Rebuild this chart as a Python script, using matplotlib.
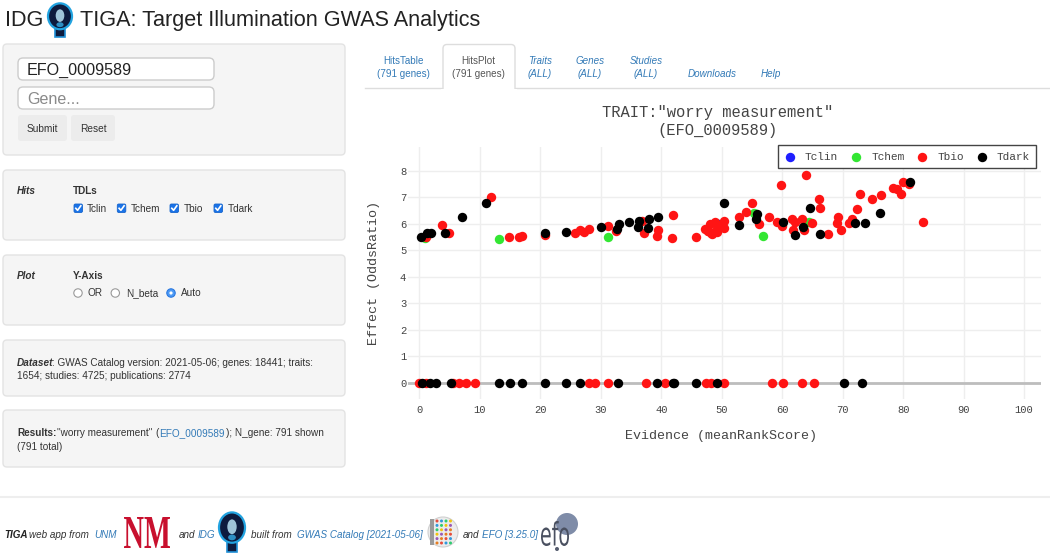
import matplotlib
matplotlib.use("Agg")
import matplotlib.pyplot as plt
from matplotlib.patches import FancyBboxPatch, Rectangle, Circle, Ellipse, PathPatch
from matplotlib.textpath import TextPath
from matplotlib.font_manager import FontProperties
from matplotlib.transforms import Affine2D
from matplotlib.lines import Line2D

# ---------------- data ----------------
tdl_names = ["Tclin", "Tchem", "Tbio", "Tdark"]
tdl_colors = ["#1f1fff", "#33e633", "#ff1414", "#000000"]

tclin_x = [49.6]
tclin_y = [6.00]

tchem_x = [0.9, 13.1, 31.2, 55.3, 56.8, 64.4]
tchem_y = [5.48, 5.44, 5.51, 6.40, 5.55, 6.07]

tbio_x = [1.1, 3.8, 4.9, 11.8, 14.8, 16.4, 16.9, 20.8, 25.8, 26.6, 27.2, 28.1,
          31.2, 32.5, 36.8, 37.2, 39.4, 39.3, 42.0, 41.8, 45.8, 47.2, 47.7, 47.8,
          48.1, 48.2, 48.3, 48.9, 49.2, 49.2, 49.8, 50.4, 50.4, 52.9, 54.0, 55.0,
          56.2, 57.8, 59.1, 59.8, 60.0, 61.6, 62.1, 61.7, 63.2, 63.6, 64.0, 65.0,
          66.0, 66.3, 67.5, 69.0, 69.3, 69.8, 71.1, 71.6, 72.3, 72.8, 74.9, 76.3,
          78.4, 78.9, 79.6, 80.0, 81.0, 83.2,
          0.0, 1.0, 5.6, 6.6, 7.7, 9.2, 28.1, 29.0, 31.2, 37.4, 40.6, 47.4, 48.2,
          50.4, 58.3, 60.1, 63.2, 65.2]
tbio_y = [5.50, 5.96, 5.66, 7.00, 5.49, 5.49, 5.56, 5.58, 5.65, 5.77, 5.68, 5.82,
          5.91, 5.74, 6.12, 5.65, 5.79, 5.53, 6.35, 5.47, 5.49, 5.81, 5.72, 5.75,
          5.98, 5.65, 5.62, 6.06, 5.69, 5.82, 5.97, 6.13, 5.83, 6.26, 6.47, 6.78,
          6.00, 6.28, 6.09, 7.47, 5.91, 6.19, 6.09, 5.78, 6.17, 5.78, 7.86, 6.03,
          6.94, 6.59, 5.63, 6.03, 6.25, 5.78, 6.03, 6.19, 6.56, 7.15, 6.93, 7.10,
          7.34, 7.32, 7.15, 7.60, 7.50, 6.06,
          0, 0, 0, 0, 0, 0, 0, 0, 0, 0, 0, 0, 0,
          0, 0, 0, 0, 0]

tdark_x = [0.2, 1.3, 1.9, 4.3, 7.0, 11.0, 20.8, 24.2, 30.0, 32.6, 33.0, 34.7,
           36.3, 36.2, 37.9, 37.8, 39.4, 50.4, 52.9, 55.9, 55.7, 60.2, 62.1, 63.5,
           64.6, 66.3, 72.1, 73.7, 76.2, 81.1,
           0.4, 1.7, 2.7, 5.2, 13.1, 14.9, 16.9, 20.8, 24.2, 26.5, 32.9, 39.3,
           41.9, 42.1, 45.7, 49.2, 70.2, 73.2]
tdark_y = [5.50, 5.65, 5.65, 5.66, 6.28, 6.78, 5.65, 5.68, 5.87, 5.80, 6.00, 6.09,
           6.13, 5.88, 6.18, 5.84, 6.27, 6.78, 5.96, 6.36, 6.17, 6.09, 5.60, 5.90,
           6.59, 5.61, 6.03, 6.03, 6.43, 7.60,
           0, 0, 0, 0, 0, 0, 0, 0, 0, 0, 0, 0,
           0, 0, 0, 0, 0, 0]

x_ticks = [0, 10, 20, 30, 40, 50, 60, 70, 80, 90, 100]
y_ticks = [0, 1, 2, 3, 4, 5, 6, 7, 8]

chart_title = 'TRAIT:"worry measurement"\n(EFO_0009589)'
x_label = "Evidence (meanRankScore)"
y_label = "Effect (OddsRatio)"
n_note = "(N: 791; 791 shown)"

# ---------------- page ----------------
W, H = 1050, 555
fig = plt.figure(figsize=(W / 100, H / 100), dpi=100)
fig.patch.set_facecolor("white")
bg = fig.add_axes([0, 0, 1, 1])
bg.set_xlim(0, W)
bg.set_ylim(H, 0)
bg.axis("off")
bg.set_zorder(0)
renderer = fig.canvas.get_renderer()

SANS = ["Liberation Sans", "DejaVu Sans"]
MONO = ["Liberation Mono", "DejaVu Sans Mono"]
LINK = "#337ab7"
TXT = "#333333"
PS = 7.2  # panel text size


def txt(x, y, s, size=PS, color=TXT, ha="left", va="baseline", family=SANS, **kw):
    return bg.text(x, y, s, fontsize=size, color=color, ha=ha, va=va,
                   family=family, **kw)


def seq(x, y, parts, size=PS):
    """parts: (text, gap_before_px, kwargs) placed one after another."""
    for s, gap, kw in parts:
        x += gap
        t = txt(x, y, s, size=size, **kw)
        x = t.get_window_extent(renderer).x1
    return x


def rbox(x0, y0, x1, y1, fc, ec, r=4, lw=1.0, z=1):
    bg.add_patch(FancyBboxPatch((x0, y0), x1 - x0, y1 - y0,
                                boxstyle=f"round,pad=0,rounding_size={r}",
                                fc=fc, ec=ec, lw=lw, zorder=z))


def path_text(s, x0, y0, x1, y1, color, family, weight="normal", z=3):
    tp = TextPath((0, 0), s, size=10, prop=FontProperties(family=family, weight=weight))
    ext = tp.get_extents()
    sx = (x1 - x0) / ext.width
    sy = (y1 - y0) / ext.height
    tr = Affine2D().translate(-ext.x0, -ext.y0).scale(sx, -sy).translate(x0, y1)
    bg.add_patch(PathPatch(tr.transform_path(tp), fc=color, ec="none", zorder=z))


def bulb(x0, y0, x1, y1):
    w, h = x1 - x0, y1 - y0
    cx = (x0 + x1) / 2
    bg.add_patch(Rectangle((cx - w * 0.2, y0 + h * 0.68), w * 0.4, h * 0.3,
                           fc="#0d1b3e", ec="#1f8fd6", lw=1.2, zorder=3))
    bg.add_patch(Ellipse((cx, y0 + h * 0.38), w, h * 0.74,
                         fc="#0d1b3e", ec="#22a3e0", lw=1.6, zorder=4))
    bg.add_patch(Ellipse((cx, y0 + h * 0.36), w * 0.36, h * 0.36,
                         fc="#b9e3f5", ec="none", alpha=0.85, zorder=5))
    bg.add_patch(Ellipse((cx, y0 + h * 0.62), w * 0.3, h * 0.14,
                         fc="#2d8fc4", ec="none", zorder=5))


# header
txt(5, 26, "IDG", size=15.6, color="#222222")
bulb(48, 3, 72, 38)
txt(80, 26, "TIGA: Target Illumination GWAS Analytics", size=15.6, color="#222222")

# left panels
for (a, b) in [(44, 155), (170, 240), (255, 325), (340, 396), (410, 467)]:
    rbox(3, a, 345, b, "#f5f5f5", "#e3e3e3")

rbox(18, 58, 214, 80, "white", "#cccccc", r=5, z=2)
rbox(18, 87, 214, 109, "white", "#cccccc", r=5, z=2)
txt(27, 75, "EFO_0009589", size=11.6, color="#222222")
txt(27, 104, "Gene...", size=11.6, color="#8a8a8a")
rbox(18, 115, 67, 141, "#ececec", "none", r=3, z=2)
rbox(71, 115, 115, 141, "#ececec", "none", r=3, z=2)
txt(42.5, 131.5, "Submit", size=7.3, ha="center")
txt(93, 131.5, "Reset", size=7.3, ha="center")

txt(17, 194, "Hits", fontweight="bold", fontstyle="italic")
txt(73, 194, "TDLs", fontweight="bold")
for cx, lab, tx in [(74, "Tclin", 87), (117.3, "Tchem", 131), (170, "Tbio", 184), (214, "Tdark", 228)]:
    rbox(cx, 204, cx + 8.5, 212.5, "#1a73e8", "#1765cc", r=1.5, lw=0.6, z=3)
    bg.add_line(Line2D([cx + 1.8, cx + 3.6, cx + 6.8], [208.3, 210.3, 205.8],
                       color="white", lw=1.2, zorder=4))
    txt(tx, 211.7, lab)

txt(17, 279, "Plot", fontweight="bold", fontstyle="italic")
txt(73, 279, "Y-Axis", fontweight="bold")
for cx, lab, tx, sel in [(78, "OR", 87, False), (115.3, "N_beta", 126, False), (171, "Auto", 181, True)]:
    if sel:
        bg.add_patch(Circle((cx, 293), 4.2, fc="#4d9af5", ec="#2a78e0", lw=0.8, zorder=3))
        bg.add_patch(Circle((cx, 293), 1.6, fc="white", ec="none", zorder=4))
    else:
        bg.add_patch(Circle((cx, 293), 4.2, fc="white", ec="#9a9a9a", lw=0.8, zorder=3))
    txt(tx, 296.5, lab)

seq(17, 365.5, [("Dataset", 0, dict(fontweight="bold", fontstyle="italic")),
                (": GWAS Catalog version: 2021-05-06; genes: 18441; traits:", -1.8, {})])
txt(17, 379, "1654; studies: 4725; publications: 2774")

seq(17, 436, [("Results:", 0, dict(fontweight="bold")),
              ('"worry measurement"', 0.8, {}),
              ("(", 2.6, {}),
              ("EFO_0009589", 0.8, dict(color=LINK)),
              ("); N_gene: 791 shown", 0.8, {})])
txt(17, 449.5, "(791 total)")

# tabs
bg.add_line(Line2D([365, 443], [88, 88], color="#dddddd", lw=1, zorder=2))
bg.add_line(Line2D([515, 1050], [88, 88], color="#dddddd", lw=1, zorder=2))
rbox(443, 44.5, 515, 100, "white", "#dddddd", r=4, z=2)
bg.add_patch(Rectangle((441, 88.6), 76, 14, fc="white", ec="none", zorder=3))
TS = 7.1
tabs = [(403, "HitsTable", "(791 genes)", LINK, "normal"),
        (478, "HitsPlot", "(791 genes)", "#555555", "normal"),
        (540, "Traits", "(ALL)", LINK, "italic"),
        (590, "Genes", "(ALL)", LINK, "italic"),
        (646, "Studies", "(ALL)", LINK, "italic")]
for cx, l1, l2, col, st in tabs:
    txt(cx, 64, l1, size=TS, color=col, ha="center", fontstyle=st, zorder=4)
    txt(cx, 77, l2, size=TS, color=col, ha="center", fontstyle=st, zorder=4)
txt(711.7, 77, "Downloads", size=TS, color=LINK, ha="center", fontstyle="italic")
txt(771, 77, "Help", size=TS, color=LINK, ha="center", fontstyle="italic")

# footer
bg.add_line(Line2D([0, 1050], [497, 497], color="#eeeeee", lw=1.5))
FB = 537.5
FS = 7.1
txt(4, FB, "TIGA", size=FS, color="#222222", fontweight="bold", fontstyle="italic")
txt(29, FB, "web app from", size=FS, fontstyle="italic")
txt(94, FB, "UNM", size=FS, color=LINK, fontstyle="italic")
path_text("NM", 124, 517, 170, 548, "#c8102e", "Liberation Serif", "bold")
txt(179, FB, "and", size=FS, fontstyle="italic")
txt(198, FB, "IDG", size=FS, color=LINK, fontstyle="italic")
bulb(219, 512, 245, 553)
txt(251, FB, "built from", size=FS, fontstyle="italic")
txt(297, FB, "GWAS Catalog [2021-05-06]", size=FS, color=LINK, fontstyle="italic")
bg.add_patch(Circle((443, 532), 15, fc="#ececec", ec="#d0d0d0", lw=0.8, zorder=2))
dot_cols = ["#e74c3c", "#3498db", "#2ecc71", "#f1c40f", "#9b59b6", "#e67e22"]
for i in range(6):
    for j in range(4):
        bg.add_patch(Circle((437 + j * 4.5, 521 + i * 4.4), 1.5,
                            fc=dot_cols[(i + j) % 6], ec="none", zorder=3))
bg.add_patch(Rectangle((430, 519), 4, 26, fc="#9a9a9a", ec="none", zorder=3))
txt(463, FB, "and", size=FS, fontstyle="italic")
txt(482, FB, "EFO [3.25.0]", size=FS, color=LINK, fontstyle="italic")
bg.add_patch(Circle((567, 524), 11, fc="#7f8ca8", ec="none", zorder=2))
bg.add_patch(Circle((557, 549), 2, fc="#555c6e", ec="none", zorder=2))
path_text("efo", 541, 521, 569, 546, "#4a5060", "DejaVu Sans", "normal")

# ---------------- chart ----------------
ax = fig.add_axes([408 / W, 1 - 398.6 / H, 633 / W, 251.4 / H])
ax.set_zorder(2)
series = [(tclin_x, tclin_y), (tchem_x, tchem_y), (tbio_x, tbio_y), (tdark_x, tdark_y)]
for name, color, (xs, ys) in zip(tdl_names, tdl_colors, series):
    ax.scatter(xs, ys, s=46, c=color, linewidths=0, label=name, zorder=3)

ax.set_xlim(-1.9, 102.8)
ax.set_ylim(-0.6, 8.9)
ax.set_xticks(x_ticks)
ax.set_yticks(y_ticks)
ax.set_xticklabels([str(v) for v in x_ticks])
ax.set_yticklabels([str(v) for v in y_ticks])
ax.tick_params(length=0, labelsize=7.6, labelcolor="#444444")
ax.tick_params(axis="x", pad=4.3)
ax.tick_params(axis="y", pad=1.3)
for lab in ax.get_xticklabels() + ax.get_yticklabels():
    lab.set_family(MONO)
ax.grid(True, color="#eeeeee", lw=1)
ax.set_axisbelow(True)
for s in ax.spines.values():
    s.set_visible(False)
ax.axhline(0, color="#bdbdbd", lw=2, zorder=2)

leg = ax.legend(loc="upper left", bbox_to_anchor=(777.7 / W, 1 - 145 / H),
                bbox_transform=fig.transFigure, ncol=4, frameon=True,
                fancybox=False, borderaxespad=0,
                prop=FontProperties(family=MONO, size=8),
                handlelength=1.0, handletextpad=0.85, columnspacing=1.12,
                borderpad=0.6, scatterpoints=1)
leg.get_frame().set_edgecolor("#444444")
leg.get_frame().set_linewidth(1.0)
leg.get_frame().set_alpha(1)
for t in leg.get_texts():
    t.set_color("#444444")

t1, t2 = chart_title.split("\n")
txt(718, 117, t1, size=11.2, color="#444444", ha="center", family=MONO)
txt(718, 135.5, t2, size=11.2, color="#444444", ha="center", family=MONO)
txt(410.7, 156, n_note, size=8, color="#444444", family=MONO, zorder=5)
txt(721, 439, x_label, size=9.6, color="#444444", ha="center", family=MONO)
txt(374, 273, y_label, size=9.6, color="#444444", ha="center", va="center",
    family=MONO, rotation=90)

fig.savefig("out.png", dpi=100, facecolor="white")
